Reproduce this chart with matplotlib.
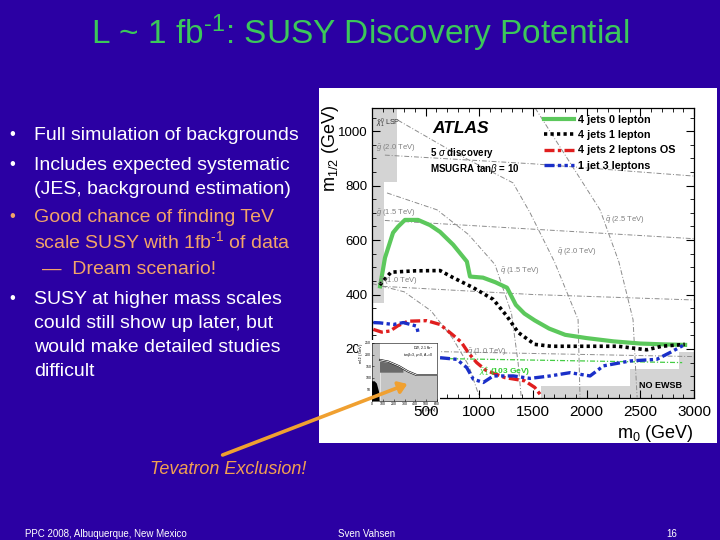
import numpy as np
import matplotlib
matplotlib.use("Agg")
import matplotlib.pyplot as plt
from matplotlib.patches import Rectangle, FancyArrowPatch
from matplotlib.ticker import MultipleLocator

plt.rcParams['font.family'] = ['Liberation Sans', 'DejaVu Sans']
plt.rcParams['mathtext.fontset'] = 'custom'
plt.rcParams['mathtext.rm'] = 'Liberation Sans'
plt.rcParams['mathtext.it'] = 'Liberation Sans:italic'
plt.rcParams['mathtext.bf'] = 'Liberation Sans:bold'
plt.rcParams['hatch.color'] = '#969696'
plt.rcParams['hatch.linewidth'] = 0.6

# --- 5 sigma discovery contours (m0, m1/2 in GeV) ---
m0_0lep = [75, 121, 196, 242, 307, 429, 540, 634, 756, 884, 913, 1034, 1150, 1258,
           1340, 1420, 1516, 1650, 1800, 2000, 2250, 2500, 2712, 2917]
m12_0lep = [430, 535, 627, 649, 674, 674, 655, 630, 583, 521, 466, 462, 445, 425,
            362, 330, 305, 275, 252, 240, 228, 220, 217, 215]

m0_1lep = [72, 177, 400, 634, 756, 944, 1130, 1258, 1361, 1516, 1668, 2000, 2293, 2560, 2700, 2914]
m12_1lep = [435, 482, 487, 488, 462, 425, 382, 320, 261, 217, 210, 210, 210, 197, 210, 217]

m0_2lep = [12, 90, 168, 240, 335, 510, 634, 758, 832, 900, 975, 1060, 1237, 1423, 1516, 1577]
m12_2lep = [272, 262, 266, 285, 302, 304, 290, 250, 225, 185, 150, 122, 95, 83, 59, 28]

m0_3lep_a = [12, 72, 199, 292, 416, 429]
m12_3lep_a = [297, 296, 290, 297, 284, 261]
m0_3lep_b = [634, 789, 882, 944, 1037, 1130, 1317, 1473, 1659, 1845, 2032, 2156, 2404, 2653, 2777, 2917]
m12_3lep_b = [168, 162, 132, 89, 77, 101, 101, 92, 101, 113, 101, 138, 156, 162, 187, 217]

series_labels = ["4 jets 0 lepton", "4 jets 1 lepton", "4 jets 2 leptons OS", "1 jet 3 leptons"]

# chargino limit
m0_chi = [634, 2890]
m12_chi = [165, 150]

# gluino / squark mass contours
gluino_lines = {
    "2.0": ([120, 1500, 3000], [912, 880, 835]),
    "1.5": ([120, 1500, 3000], [672, 640, 605]),
    "1.0": ([100, 1500, 3000], [430, 400, 380]),
    "0.5": ([400, 3000], [192, 172]),
}
squark_lines = {
    "1.0": ([0, 300, 550, 750, 900, 1000], [440, 410, 340, 240, 140, 25]),
    "1.5": ([140, 606, 900, 1146, 1300, 1361, 1390], [773, 711, 620, 510, 330, 150, 25]),
    "2.0": ([242, 727, 1314, 1473, 1700, 1920, 1938], [1040, 930, 810, 700, 520, 308, 22]),
    "2.5": ([1520, 2125, 2300, 2432, 2470], [1085, 711, 520, 308, 22]),
}

# excluded regions
lsp_m0 = [0, 230, 230, 110, 110, 0]
lsp_m12 = [1085, 1085, 815, 815, 370, 370]
ewsb_m0 = [1570, 1570, 2400, 2400, 2860, 2860, 3000, 3000]
ewsb_m12 = [20, 65, 65, 128, 128, 188, 188, 20]

# Tevatron inset
tev_m0 = [74, 150, 250, 330, 412, 600]
tev_m12 = [177, 170, 150, 128, 112, 112]
tev_dark_m0 = [74, 180, 290, 290, 74]
tev_dark_m12 = [170, 162, 135, 122, 122]
tev_blob_m0 = [0, 70, 65, 45, 25, 0]
tev_blob_m12 = [0, 0, 40, 75, 85, 85]

orange = "#f2a468"
bullets = [
    ("\u2022", "Full simulation of backgrounds", "white", 135),
    ("\u2022", "Includes expected systematic", "white", 165),
    ("", "(JES, background estimation)", "white", 189),
    ("\u2022", "Good chance of finding TeV", orange, 217),
    ("", r"scale SUSY with 1fb$^{\text{-1}}$ of data", orange, 241),
    ("", "\u2014  Dream scenario!", orange, 270),
    ("\u2022", "SUSY at higher mass scales", "white", 299),
    ("", "could still show up later, but", "white", 323),
    ("", "would make detailed studies", "white", 347),
    ("", "difficult", "white", 371),
]

W, H = 720, 540
bg = "#2b00a3"
fig = plt.figure(figsize=(7.2, 5.4), dpi=100, facecolor=bg)


def fx(px):
    return px / W


def fy(py):
    return 1 - py / H


# slide text
fig.text(0.5, fy(33), r"L ~ 1 fb$^{\text{-1}}$: SUSY Discovery Potential", color="#3cc85a",
         fontsize=24, ha="center", va="center")
for bullet, txt, col, ypx in bullets:
    if bullet:
        fig.text(fx(9), fy(ypx), bullet, color=col, fontsize=12, va="center")
    xoff = 42 if txt.startswith("\u2014") else 34
    fig.text(fx(xoff), fy(ypx), txt, color=col, fontsize=14, va="center")
fig.text(fx(150), fy(470), "Tevatron Exclusion!", color="#f2a050", fontsize=13,
         style="italic", va="center")
fig.text(fx(25), fy(534), "PPC 2008, Albuquerque, New Mexico", color="white", fontsize=7, va="center")
fig.text(fx(338), fy(534), "Sven Vahsen", color="white", fontsize=7, va="center")
fig.text(fx(666), fy(534), "16", color="white", fontsize=7, va="center")

# white picture background
fig.patches.append(Rectangle((fx(319), fy(443)), fx(398), 355 / H, transform=fig.transFigure,
                             facecolor="white", edgecolor="none", zorder=-1))

ax = fig.add_axes([fx(372), fy(398), fx(322), 290 / H])
ax.set_xlim(0, 3000)
ax.set_ylim(20, 1085)

grey = "#8c8c8c"
for key, (xs, ys) in gluino_lines.items():
    ax.plot(xs, ys, color=grey, lw=0.7, ls=(0, (5, 2, 1, 2)))
for key, (xs, ys) in squark_lines.items():
    ax.plot(xs, ys, color=grey, lw=0.7, ls=(0, (5, 2, 1, 2)))

ax.fill(lsp_m0, lsp_m12, facecolor="#d4d4d4", edgecolor="none", hatch="xxxxx", lw=0)
ax.fill(ewsb_m0, ewsb_m12, facecolor="#d4d4d4", edgecolor="none", hatch="xxxxx", lw=0)

ax.plot(m0_chi, m12_chi, color="#44cc44", lw=0.9, ls=(0, (4, 1.5, 1, 1.5)))

l0, = ax.plot(m0_0lep, m12_0lep, color="#5cc85c", lw=3, solid_joinstyle="round")
l1, = ax.plot(m0_1lep, m12_1lep, color="black", lw=2.6, ls=(0, (0.9, 0.9)))
l2, = ax.plot(m0_2lep, m12_2lep, color="#e01e1e", lw=2.4, ls=(0, (3, 1, 1, 1)))
l3, = ax.plot(m0_3lep_a, m12_3lep_a, color="#1a2fc8", lw=2.4, ls=(0, (3, 1, 1, 1, 1, 1)))
ax.plot(m0_3lep_b, m12_3lep_b, color="#1a2fc8", lw=2.4, ls=(0, (3, 1, 1, 1, 1, 1)))

lab_kw = dict(color="#808080", fontsize=5.5)
ax.text(40, 938, r"$\tilde{g}$ (2.0 TeV)", **lab_kw, va="center")
ax.text(40, 700, r"$\tilde{g}$ (1.5 TeV)", **lab_kw, va="center")
ax.text(60, 447, r"$\tilde{g}$ (1.0 TeV)", **lab_kw, va="center")
ax.text(640, 118, r"$\tilde{g}$ (0.5 TeV)", **lab_kw, va="center", ha="right")
ax.text(2170, 674, r"$\tilde{q}$ (2.5 TeV)", **lab_kw, va="center")
ax.text(1725, 557, r"$\tilde{q}$ (2.0 TeV)", **lab_kw, va="center")
ax.text(1193, 484, r"$\tilde{q}$ (1.5 TeV)", **lab_kw, va="center")
ax.text(885, 188, r"$\tilde{q}$ (1.0 TeV)", **lab_kw, va="center")
ax.text(40, 1030, r"$\tilde{\chi}^0_1$ LSP", color="#333333", fontsize=5, va="center")
ax.text(1000, 115, r"$\tilde{\chi}^{\pm}_1$ (103 GeV)", color="#33cc33", fontsize=6, va="center",
        fontweight="bold")
ax.text(2690, 67, "NO EWSB", fontsize=6.5, fontweight="bold", ha="center", va="center")

ax.text(560, 1010, "ATLAS", fontsize=12.5, fontweight="bold", style="italic", va="center")
ax.text(540, 918, r"5 $\sigma$ discovery", fontsize=7, fontweight="bold", va="center")
ax.text(540, 862, r"MSUGRA tan$\beta$ = 10", fontsize=7, fontweight="bold", va="center")

leg = ax.legend([l0, l1, l2, l3], series_labels, loc="upper left", bbox_to_anchor=(0.515, 1.0),
                frameon=False, fontsize=7.8, handlelength=2.7, handletextpad=0.4,
                labelspacing=0.5, borderaxespad=0.2)
for t in leg.get_texts():
    t.set_fontweight("bold")

ax.xaxis.set_major_locator(MultipleLocator(500))
ax.xaxis.set_minor_locator(MultipleLocator(100))
ax.yaxis.set_major_locator(MultipleLocator(200))
ax.yaxis.set_minor_locator(MultipleLocator(50))
ax.tick_params(which="both", direction="in", top=True, right=True)
ax.tick_params(which="major", length=6, width=0.8)
ax.tick_params(which="minor", length=3, width=0.6)
ax.tick_params(axis="x", labelsize=11, pad=5)
ax.tick_params(axis="y", labelsize=9.5, pad=3)
ax.set_xticks([500, 1000, 1500, 2000, 2500, 3000])
ax.set_yticks([200, 400, 600, 800, 1000])
ax.set_xlabel("m$_0$ (GeV)", fontsize=13, loc="right", labelpad=3)
ax.set_ylabel("m$_{1/2}$ (GeV)", fontsize=13)
ax.yaxis.set_label_coords((341 - 372) / 322, (398 - 148) / 290)
for s in ax.spines.values():
    s.set_linewidth(0.9)

# Tevatron inset picture
fig.patches.append(Rectangle((fx(358), fy(406)), fx(82), 66 / H, transform=fig.transFigure,
                             facecolor="white", edgecolor="none", zorder=1.5))
axi = fig.add_axes([fx(372), fy(401), fx(65), 58 / H], zorder=2)
axi.set_xlim(0, 600)
axi.set_ylim(0, 250)
axi.set_facecolor("white")
axi.fill_between(tev_m0, 0, tev_m12, color="#c4c4c4", lw=0)
axi.fill_between([0, 74], 0, 250, color="#c4c4c4", lw=0)
axi.fill(tev_dark_m0, tev_dark_m12, color="#6a6a6a", lw=0)
axi.plot(tev_m0, tev_m12, color="black", lw=1.4)
axi.plot(tev_m0, tev_m12, color="white", lw=0.6)
axi.fill(tev_blob_m0, tev_blob_m12, color="black", lw=0)
axi.text(0.95, 0.88, "DØ, 2.1 fb$^{-1}$", transform=axi.transAxes, fontsize=2.5, ha="right")
axi.text(0.95, 0.78, r"tan$\beta$=3, $\mu$<0, A$_0$=0", transform=axi.transAxes, fontsize=2.5, ha="right")
axi.set_xticks([0, 100, 200, 300, 400, 500, 600])
axi.set_yticks([50, 100, 150, 200, 250])
axi.tick_params(labelsize=2.5, length=1.2, width=0.4, pad=0.5, direction="in")
axi.set_xlabel("m$_0$ (GeV)", fontsize=3, loc="right", labelpad=0.5)
axi.set_ylabel("m$_{1/2}$ (GeV)", fontsize=3, loc="top", labelpad=0.5)
for s in axi.spines.values():
    s.set_linewidth(0.4)

arrow = FancyArrowPatch((fx(220), fy(456)), (fx(410), fy(383)), transform=fig.transFigure,
                        arrowstyle="-|>,head_length=5,head_width=3.5", color="#f0a030",
                        lw=2.6, zorder=5)
fig.patches.append(arrow)

fig.savefig("out.png", dpi=100, facecolor=bg)
